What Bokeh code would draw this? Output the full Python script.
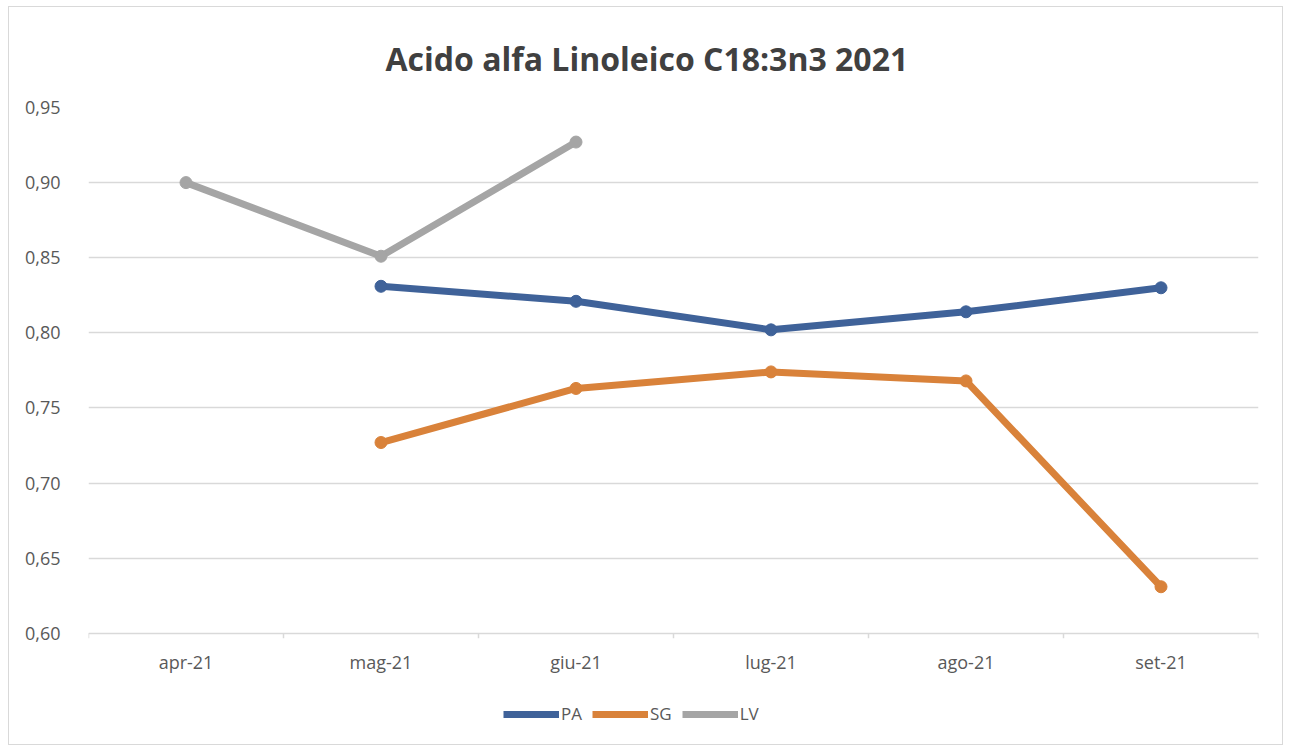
from bokeh.plotting import figure
from bokeh.models import Range1d, Legend, LegendItem, Title
from bokeh.embed import file_html
from bokeh.resources import INLINE

months = ["apr-21", "mag-21", "giu-21", "lug-21", "ago-21", "set-21"]
pa_months = ["mag-21", "giu-21", "lug-21", "ago-21", "set-21"]
pa_values = [0.831, 0.821, 0.802, 0.814, 0.830]
sg_months = ["mag-21", "giu-21", "lug-21", "ago-21", "set-21"]
sg_values = [0.727, 0.763, 0.774, 0.768, 0.631]
lv_months = ["apr-21", "mag-21", "giu-21"]
lv_values = [0.900, 0.851, 0.927]
y_ticks = [0.60, 0.65, 0.70, 0.75, 0.80, 0.85, 0.90, 0.95]
y_labels = {0.60: "0,60", 0.65: "0,65", 0.70: "0,70", 0.75: "0,75",
            0.80: "0,80", 0.85: "0,85", 0.90: "0,90", 0.95: "0,95"}
y_min, y_max = 0.60, 0.95

PA_C = "#3F6299"
SG_C = "#D9823A"
LV_C = "#A5A5A5"
TXT = "#595959"
GRID = "#D9D9D9"
FONT = "Open Sans"

# frame extends below the 0,60 line to hold the category labels and legend
PX_PER_UNIT = 1500.0
FRAME_H = 634
p = figure(x_range=months, y_range=Range1d(y_max - FRAME_H / PX_PER_UNIT, y_max),
           width=1275, height=739, output_backend="svg",
           toolbar_location=None, x_axis_location=None,
           min_border_left=79, min_border_right=26,
           min_border_top=99, min_border_bottom=4)
p.outline_line_color = None
p.background_fill_color = "white"
p.border_fill_color = "white"
p.styles = {"border": "1px solid #d9d9d9", "box-sizing": "border-box",
            "margin-left": "8px", "margin-top": "6px"}

t = Title(text="Acido alfa Linoleico C18:3n3 2021", align="left",
          text_font=FONT, text_font_size="32px", text_font_style="bold",
          text_color="#404040", offset=297, standoff=55)
p.add_layout(t, "above")

p.xgrid.grid_line_color = None
p.ygrid.grid_line_color = GRID
p.ygrid.grid_line_width = 1.5
p.yaxis.ticker = y_ticks
p.yaxis.major_label_overrides = y_labels
p.yaxis.axis_line_color = None
p.yaxis.major_tick_line_color = None
p.yaxis.minor_tick_line_color = None
p.yaxis.major_label_text_font = FONT
p.yaxis.major_label_text_font_size = "18px"
p.yaxis.major_label_text_color = TXT
p.yaxis.major_label_standoff = 22

# category axis drawn at 0,60: small boundary ticks and labels
bounds = [(m, -0.5) for m in months] + [(months[-1], 0.5)]
tick_len = 5 / PX_PER_UNIT
p.segment(x0=bounds, y0=[y_min] * len(bounds), x1=bounds,
          y1=[y_min - tick_len] * len(bounds), line_color=GRID, line_width=1.5)
p.text(x=months, y=[y_min] * len(months), text=months, y_offset=29,
       text_align="center", text_baseline="middle",
       text_font={"value": FONT}, text_font_size="18px", text_color=TXT)

items = []
for name, xs, ys, c in [("PA", pa_months, pa_values, PA_C),
                        ("SG", sg_months, sg_values, SG_C),
                        ("LV", lv_months, lv_values, LV_C)]:
    r1 = p.line(xs, ys, line_color=c, line_width=7, line_join="round")
    r2 = p.scatter(xs, ys, size=12, fill_color=c, line_color=c)
    items.append(LegendItem(label=name, renderers=[r1, r2]))

legend = Legend(items=items, orientation="horizontal", location=(415, 17),
                label_text_font=FONT, label_text_font_size="17px",
                label_text_color=TXT, glyph_width=56, glyph_height=14,
                label_standoff=2, spacing=10, padding=0, margin=0,
                border_line_color=None, background_fill_alpha=0)
p.add_layout(legend)

open("out.html", "w").write(file_html(p, INLINE))
